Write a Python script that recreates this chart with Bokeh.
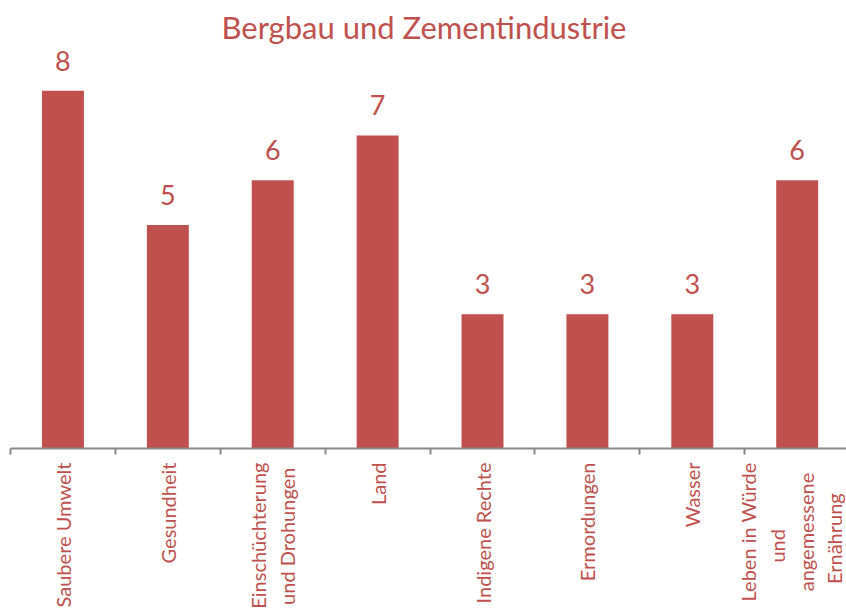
from bokeh.plotting import figure
from bokeh.models import FixedTicker, Range1d, ColumnDataSource
from bokeh.core.properties import value
from bokeh.embed import file_html
from bokeh.resources import INLINE
import math

NB = "\u00a0"
categories = ["Saubere Umwelt", "Gesundheit", "Einschüchterung\nund Drohungen" + NB, "Land",
              "Indigene Rechte", "Ermordungen", "Wasser",
              "Leben in Würde\nund" + NB * 13 + "\nangemessene" + NB * 2 + "\nErnährung" + NB * 6]
counts = [8, 5, 6, 7, 3, 3, 3, 6]

RED = "#C0504D"
FONT = "Lato"

xs = [i + 0.5 for i in range(len(categories))]
src = ColumnDataSource(dict(x=xs, top=counts, lbl=[str(c) for c in counts]))

p = figure(width=846, height=611, output_backend="svg", toolbar_location=None,
           x_range=Range1d(0, 7.97), y_range=Range1d(0, 8.9),
           min_border_left=10, min_border_right=0, min_border_top=0, min_border_bottom=0)

p.title.text = "Bergbau und Zementindustrie"
p.title.align = "left"
p.title.offset = 211
p.title.text_color = RED
p.title.text_font = FONT
p.title.text_font_style = "normal"
p.title.text_font_size = "31px"

p.vbar(x="x", top="top", width=0.4, bottom=0, source=src, color=RED, line_color=None)
p.text(x="x", y="top", text="lbl", source=src, text_align="center", text_baseline="bottom",
       y_offset=-20, text_color=RED, text_font=value(FONT), text_font_size="27px")

p.yaxis.visible = False
p.xgrid.visible = False
p.ygrid.visible = False
p.outline_line_color = None

ax = p.xaxis[0]
ax.ticker = FixedTicker(ticks=xs, minor_ticks=list(range(len(categories) + 1)))
ax.major_label_overrides = {x: c for x, c in zip(xs, categories)}
ax.major_label_orientation = math.pi / 2
ax.major_tick_out = 0
ax.major_tick_in = 0
ax.minor_tick_out = 6
ax.minor_tick_in = 0
ax.minor_tick_line_color = "#888888"
ax.minor_tick_line_width = 2
ax.axis_line_color = "#888888"
ax.axis_line_width = 2
ax.major_label_text_color = RED
ax.major_label_text_font = FONT
ax.major_label_text_font_size = "20px"
ax.major_label_standoff = 8

open("out.html", "w").write(file_html(p, INLINE))
